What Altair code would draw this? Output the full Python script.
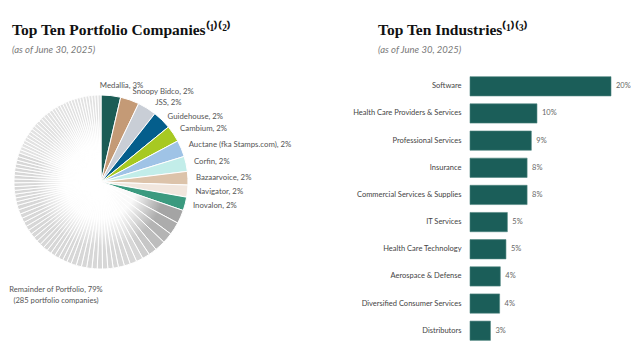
import altair as alt
import pandas as pd

# ---------------- data ----------------
top_companies = ["Medallia", "Snoopy Bidco", "JSS", "Guidehouse", "Cambium",
                 "Auctane (fka Stamps.com)", "Corfin", "Bazaarvoice", "Navigator", "Inovalon"]
top_pct_labels = ["3%", "2%", "2%", "2%", "2%", "2%", "2%", "2%", "2%", "2%"]
# slice angles as drawn in the picture (degrees)
top_slice_deg = [13, 12.5, 12.5, 12.5, 11, 11, 10, 9, 8, 9]
top_colors = ["#1b5c55", "#c49a76", "#c9ced6", "#045e8c", "#a7c922",
              "#9fc3e6", "#c2ede9", "#dcc3aa", "#f1e6dd", "#3b9a7f"]

# remainder of portfolio, drawn as many thin grey slices (degrees as drawn)
rest_slice_deg = [9, 8.5, 7, 7, 5.5, 5, 4.5, 4.5, 4, 4, 3.5, 3.5, 3.5,
                  3.5, 3.5, 3.5, 3.5, 3.5, 3.5, 3, 3, 3, 3, 3, 3, 3, 3, 3,
                  3, 3, 3, 3, 3, 3, 3, 3, 3, 2.5, 2.5, 2.5, 2.5, 2.5, 2.5,
                  2.5, 2.5, 2.5, 2.5, 2.5, 2.5, 2.5, 2.5, 2.25, 2.25, 2.25,
                  2.25, 2.25, 2.25, 2.25, 2.25, 2.25, 2.25, 2.25, 2.25, 2.25,
                  2.25, 2.25, 2.25, 2, 2, 2, 2, 2, 2, 2, 2, 2, 2, 2, 2, 2, 2,
                  2, 2, 2]
rest_lead_colors = ["#a4a4a4", "#acacac", "#b4b4b4", "#bdbdbd", "#c6c6c6", "#cecece"]
rest_mid_color = "#d7d7d7"      # lower-left slices
rest_tail_color = "#e2e2e2"     # upper-left (smallest) slices
remainder_label = ["Remainder of Portfolio, 79%", "(285 portfolio companies)"]

industries = ["Software", "Health Care Providers & Services", "Professional Services",
              "Insurance", "Commercial Services & Supplies", "IT Services",
              "Health Care Technology", "Aerospace & Defense",
              "Diversified Consumer Services", "Distributors"]
industry_values = [20, 9.5, 8.7, 8.1, 8.1, 5.3, 5.1, 4.3, 4.2, 2.9]
industry_labels = ["20%", "10%", "9%", "8%", "8%", "5%", "5%", "4%", "4%", "3%"]

# ---------------- tables ----------------
rows = []
for i, (n, p, v, c) in enumerate(zip(top_companies, top_pct_labels, top_slice_deg, top_colors)):
    rows.append({"idx": i, "name": n, "value": v, "color": c, "label": f"{n}, {p}"})
for j, v in enumerate(rest_slice_deg):
    if j < len(rest_lead_colors):
        c = rest_lead_colors[j]
    elif v >= 2.5:
        c = rest_mid_color
    else:
        c = rest_tail_color
    rows.append({"idx": len(top_companies) + j, "name": f"other{j}", "value": v,
                 "color": c, "label": ""})
pie_df = pd.DataFrame(rows)

ind_df = pd.DataFrame({"industry": industries, "value": industry_values,
                       "label": industry_labels})

LABEL_FONT = "Lato"
R = 87
N_TOP = len(top_companies)

theta_scale = alt.Scale(domain=[0, 1])

base = alt.Chart(pie_df)

arcs = base.mark_arc(radius=R, stroke="white", strokeWidth=1).encode(
    theta=alt.Theta("value:Q", stack="normalize", scale=theta_scale),
    order=alt.Order("idx:Q"),
    color=alt.Color("color:N", scale=None),
)

# cumulative positions (fractions of the whole) for labels / glow overlay
cum = base.transform_window(
    cum="sum(value)", sort=[alt.SortField("idx")], frame=[None, 0]
).transform_joinaggregate(
    total="sum(value)"
).transform_calculate(
    s0="(datum.cum - datum.value) / datum.total",
    s1="datum.cum / datum.total",
    mid="(datum.cum - datum.value / 2) / datum.total",
)

glow_fill = {
    "gradient": "radial",
    "x1": 0.513, "y1": 0.5, "r1": 0,
    "x2": 0.513, "y2": 0.5, "r2": 0.5,
    "stops": [
        {"offset": 0, "color": "rgba(255,255,255,1)"},
        {"offset": 0.42, "color": "rgba(255,255,255,0.92)"},
        {"offset": 0.75, "color": "rgba(255,255,255,0)"},
        {"offset": 1, "color": "rgba(255,255,255,0)"},
    ],
}

glow = cum.transform_filter(
    f"datum.idx >= {N_TOP}"
).transform_aggregate(
    a0="min(s0)", a1="max(s1)"
).mark_arc(radius=R, fill=glow_fill, strokeWidth=0).encode(
    theta=alt.Theta("a0:Q", scale=theta_scale),
    theta2="a1:Q",
)

def label_layer(cond, dx, dy):
    return cum.transform_filter(cond).mark_text(
        radius=95, align="left", baseline="middle", font=LABEL_FONT,
        fontSize=7.8, color="#555", dx=dx, dy=dy).encode(
        theta=alt.Theta("mid:Q", scale=theta_scale),
        text="label:N",
    )

lab_main = label_layer(f"datum.idx > 3 && datum.idx < {N_TOP} || datum.idx == 1", 0, 0)
lab_med = label_layer("datum.idx == 0", -12, -2)
lab_jss = label_layer("datum.idx == 2", 4, 2)
lab_gh = label_layer("datum.idx == 3", 0, 3)

rem = alt.Chart(pd.DataFrame({"k": [0]})).mark_text(
    align="center", baseline="middle", font=LABEL_FONT, fontSize=7.6,
    color="#555", lineHeight=10.5
).encode(x=alt.value(48), y=alt.value(228), text=alt.value(remainder_label))

title_common = dict(anchor="start", frame="group", font="Liberation Serif",
                    fontSize=15.5, fontWeight="bold", color="#111",
                    subtitleFont=LABEL_FONT, subtitleFontStyle="italic",
                    subtitleFontSize=9.5, subtitleColor="#7a7a7a",
                    subtitlePadding=6, offset=8)

left = alt.layer(arcs, glow, lab_main, lab_med, lab_jss, lab_gh, rem).properties(
    width=186, height=240,
    title=alt.TitleParams("Top Ten Portfolio Companies⁽¹⁾⁽²⁾",
                          subtitle="(as of June 30, 2025)", dx=4, **title_common),
)

bars = alt.Chart(ind_df).mark_bar(color="#1b5e59", stroke="#4f8580", strokeWidth=0.6).encode(
    y=alt.Y("industry:N", sort=industries, title=None,
            scale=alt.Scale(paddingInner=0.29, paddingOuter=0.355, align=0.76),
            axis=alt.Axis(ticks=False, domain=False, labelPadding=9, labelFont=LABEL_FONT,
                          labelFontSize=7.5, labelColor="#444", labelLimit=220)),
    x=alt.X("value:Q", axis=None, scale=alt.Scale(domain=[0, 20], nice=False)),
)
vals = alt.Chart(ind_df).mark_text(align="left", baseline="middle", dx=5,
                                   font=LABEL_FONT, fontSize=7.5, color="#666").encode(
    y=alt.Y("industry:N", sort=industries),
    x=alt.X("value:Q"),
    text="label:N",
)

right = alt.layer(bars, vals).properties(
    width=141, height=283,
    title=alt.TitleParams("Top Ten Industries⁽¹⁾⁽³⁾",
                          subtitle="(as of June 30, 2025)", dx=-92, **title_common),
)

chart = alt.hconcat(left, right, spacing=276, bounds="flush").configure_view(
    stroke=None
).properties(
    padding={"left": 0, "top": 15, "right": 0, "bottom": 0},
    background="white",
)

chart.save("out.html", embed_options={"renderer": "svg", "actions": False})
